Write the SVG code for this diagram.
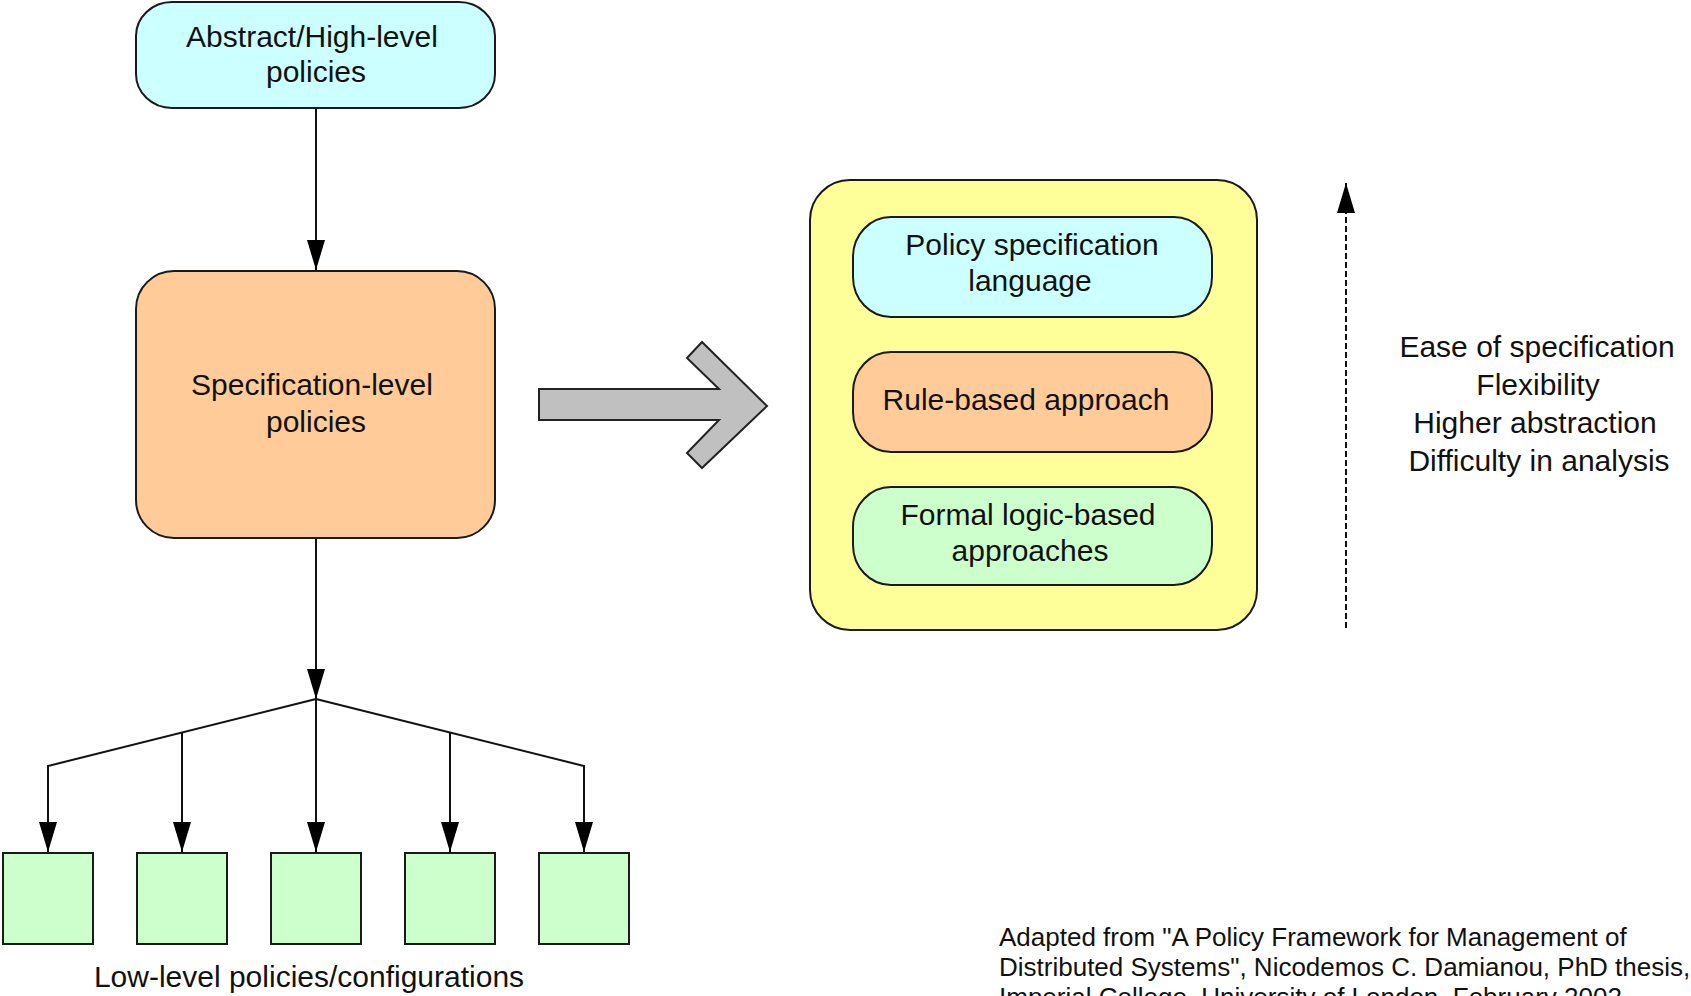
<svg xmlns="http://www.w3.org/2000/svg" width="1691" height="996" viewBox="0 0 1691 996">
  <style>
    .box { stroke: #1a1a1a; stroke-width: 2; }
    .cyan { fill: #ccffff; }
    .orange { fill: #ffcc99; }
    .green { fill: #ccffcc; }
    .yellow { fill: #ffff99; }
    .lbl { font-family: "Liberation Sans", Arial, sans-serif; font-size: 30px; fill: #111; text-anchor: middle; }
    .note { font-family: "Liberation Sans", Arial, sans-serif; font-size: 26px; fill: #111; }
    .wire { fill: none; stroke: #111; stroke-width: 2; }
  </style>
  <defs>
    <marker id="head" viewBox="0 0 30 18" refX="30" refY="9" markerWidth="30" markerHeight="18" markerUnits="userSpaceOnUse" orient="auto">
      <path d="M0,0 L30,9 L0,18 Z" fill="#000" stroke="none"/>
    </marker>
  </defs>

  <rect width="1691" height="996" fill="#ffffff"/>

  <!-- connectors -->
  <g id="connectors">
    <path class="wire" d="M316,108 V270" marker-end="url(#head)"/>
    <path class="wire" d="M316,538 V699" marker-end="url(#head)"/>
    <path class="wire" d="M316,699 L48,766 V852" marker-end="url(#head)"/>
    <path class="wire" d="M316,699 L584,766 V852" marker-end="url(#head)"/>
    <path class="wire" d="M182,732.5 V852" marker-end="url(#head)"/>
    <path class="wire" d="M316,699 V852" marker-end="url(#head)"/>
    <path class="wire" d="M450,732.5 V852" marker-end="url(#head)"/>
    <path id="refine-arrow" d="M539,389 L719,389 L687,358 L702,342 L767,406 L702,468 L687,453 L719,420 L539,420 Z" fill="#c0c0c0" stroke="#222" stroke-width="2" stroke-linejoin="miter"/>
    <path class="wire" d="M1346,628 V183" stroke-dasharray="6,3" marker-end="url(#head)"/>
  </g>

  <g id="abstract-policies">
    <rect class="box cyan" x="136" y="2" width="359" height="106" rx="36" ry="34"/>
    <text class="lbl" x="312" y="47">Abstract/High-level</text>
    <text class="lbl" x="316" y="82">policies</text>
  </g>

  <g id="specification-policies">
    <rect class="box orange" x="136" y="271" width="359" height="267" rx="38" ry="38"/>
    <text class="lbl" x="312" y="395">Specification-level</text>
    <text class="lbl" x="316" y="432">policies</text>
  </g>

  <g id="low-level-policies">
    <rect class="box green" x="3" y="853" width="90" height="91"/>
    <rect class="box green" x="137" y="853" width="90" height="91"/>
    <rect class="box green" x="271" y="853" width="90" height="91"/>
    <rect class="box green" x="405" y="853" width="90" height="91"/>
    <rect class="box green" x="539" y="853" width="90" height="91"/>
    <text class="lbl" x="309" y="987">Low-level policies/configurations</text>
  </g>

  <g id="approaches">
    <rect class="box yellow" x="810" y="180" width="447" height="450" rx="40" ry="40"/>
  </g>

  <g id="policy-language">
    <rect class="box cyan" x="853" y="217" width="359" height="100" rx="38" ry="40"/>
    <text class="lbl" x="1032" y="255">Policy specification</text>
    <text class="lbl" x="1030" y="291">language</text>
  </g>

  <g id="rule-based">
    <rect class="box orange" x="853" y="352" width="359" height="100" rx="38" ry="40"/>
    <text class="lbl" x="1026" y="410">Rule-based approach</text>
  </g>

  <g id="formal-logic">
    <rect class="box green" x="853" y="487" width="359" height="98" rx="38" ry="40"/>
    <text class="lbl" x="1028" y="525">Formal logic-based</text>
    <text class="lbl" x="1030" y="561">approaches</text>
  </g>

  <g id="properties">
    <text class="lbl" x="1537" y="357">Ease of specification</text>
    <text class="lbl" x="1538" y="395">Flexibility</text>
    <text class="lbl" x="1535" y="433">Higher abstraction</text>
    <text class="lbl" x="1539" y="471">Difficulty in analysis</text>
  </g>

  <g id="citation">
    <text class="note" x="999" y="946">Adapted from "A Policy Framework for Management of</text>
    <text class="note" x="999" y="976">Distributed Systems", Nicodemos C. Damianou, PhD thesis,</text>
    <text class="note" x="999" y="1006">Imperial College, University of London, February 2002</text>
  </g>
</svg>
